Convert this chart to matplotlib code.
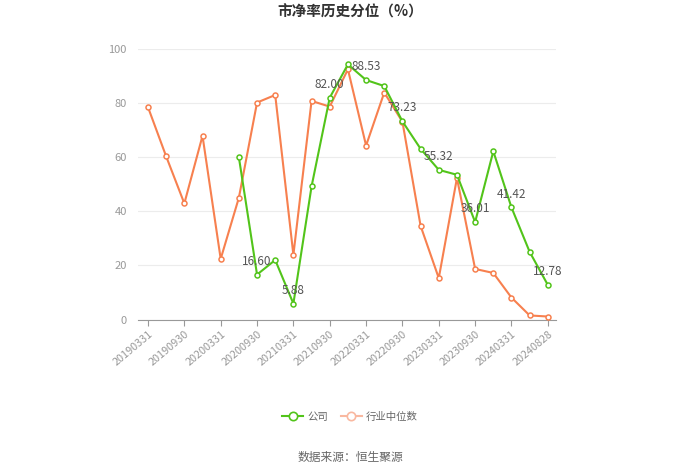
import matplotlib
matplotlib.use("Agg")
import matplotlib.pyplot as plt
from matplotlib.lines import Line2D

plt.rcParams["font.family"] = ["Noto Sans CJK SC", "DejaVu Sans"]

# ── data ──────────────────────────────────────────────────────────────────
dates = [
    "20190331", "20190630", "20190930", "20191231", "20200331", "20200630",
    "20200930", "20201231", "20210331", "20210630", "20210930", "20211231",
    "20220331", "20220630", "20220930", "20221231", "20230331", "20230630",
    "20230930", "20231231", "20240331", "20240630", "20240828",
]
company = [
    None, None, None, None, None, 60.0,
    16.60, 22.0, 5.88, 49.2, 82.00, 94.3,
    88.53, 86.3, 73.23, 63.1, 55.32, 53.5,
    36.01, 62.2, 41.42, 25.0, 12.78,
]
industry = [
    78.5, 60.3, 42.9, 67.9, 22.4, 45.0,
    80.2, 83.0, 23.9, 80.8, 78.7, 92.5,
    64.3, 83.9, 73.1, 34.6, 15.3, 52.3,
    18.7, 17.2, 8.1, 1.5, 1.1,
]
labelled = [6, 8, 10, 12, 14, 16, 18, 20, 22]

GREEN = "#52c41a"
ORANGE = "#f7804f"

fig = plt.figure(figsize=(7.0, 4.73), dpi=100)
ax = fig.add_axes([138 / 700, 1 - 319.5 / 473, (556 - 138) / 700, (319.5 - 49) / 473])

x = list(range(len(dates)))
cx = [i for i, v in zip(x, company) if v is not None]
cy = [v for v in company if v is not None]

ax.plot(x, industry, color=ORANGE, lw=1.5, marker="o", ms=3.6,
        mfc="white", mec=ORANGE, mew=1.1, zorder=3)
ax.plot(cx, cy, color=GREEN, lw=1.5, marker="o", ms=3.6,
        mfc="white", mec=GREEN, mew=1.1, zorder=4)

for i in labelled:
    ax.annotate(f"{company[i]:.2f}", (i, company[i]), xytext=(0, 5),
                textcoords="offset points", ha="center", va="bottom",
                fontsize=8.5, color="#555555", zorder=5)

ax.set_xlim(-0.55, 22.45)
ax.set_ylim(0, 100)
ax.set_yticks([0, 20, 40, 60, 80, 100])
ax.tick_params(axis="y", length=0, labelsize=8, labelcolor="#999999", pad=8)
ticks = list(range(0, len(dates), 2))
ax.set_xticks(ticks)
ax.set_xticklabels([dates[i] for i in ticks], rotation=40, ha="right",
                   rotation_mode="anchor", fontsize=7.8, color="#999999")
ax.tick_params(axis="x", length=4, color="#999999", pad=3)

ax.grid(axis="y", color="#ececec", lw=0.8)
ax.set_axisbelow(True)
for s in ["top", "right", "left"]:
    ax.spines[s].set_visible(False)
ax.spines["bottom"].set_color("#999999")

fig.text(0.5, 1 - 12 / 473, "市净率历史分位（%）", ha="center", va="center",
         fontsize=10.5, fontweight="bold", color="#333333")

handles = [
    Line2D([], [], color=GREEN, lw=1.5, marker="o", ms=6, mfc="white", mec=GREEN, mew=1.2),
    Line2D([], [], color="#f9b8a0", lw=1.5, marker="o", ms=6, mfc="white", mec="#f9b8a0", mew=1.2),
]
fig.legend(handles, ["公司", "行业中位数"], loc="center", bbox_to_anchor=(0.5, 1 - 417 / 473),
           ncol=2, frameon=False, fontsize=7.5, handlelength=2.0, columnspacing=1.2,
           handletextpad=0.4, labelcolor="#666666")

fig.text(0.5, 1 - 457 / 473, "数据来源：恒生聚源", ha="center", va="center",
         fontsize=8.5, color="#666666")

fig.savefig("out.png", dpi=100, facecolor="white")
